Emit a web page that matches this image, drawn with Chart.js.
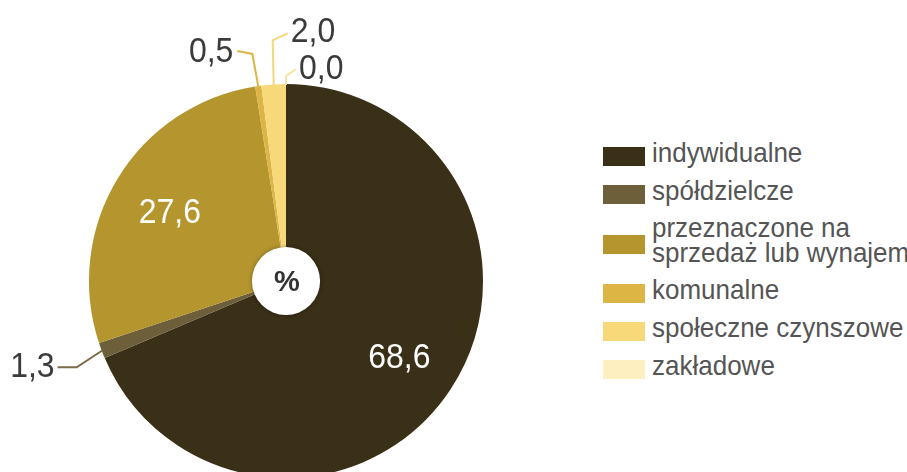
<!DOCTYPE html>
<html><head><meta charset="utf-8">
<script src="https://cdn.jsdelivr.net/npm/chart.js@4/dist/chart.umd.min.js"></script>
<style>
html,body{margin:0;padding:0;width:907px;height:472px;overflow:hidden;background:#fff;font-family:"Liberation Sans",Arial,sans-serif;}
#wrap{position:absolute;left:0;top:0;width:580px;height:500px;}
#legend{position:absolute;left:603px;top:142px;margin:0;padding:0;list-style:none;color:#555;font-size:26px;line-height:23px;white-space:nowrap;}
#legend li{display:flex;align-items:center;margin-bottom:15px;}
#legend .sw{width:42px;height:19px;margin-right:7px;position:relative;top:3px;flex:none;}
#legend .tx{display:inline-block;transform:scaleY(1.08);transform-origin:50% 60%;}
</style></head>
<body>
<div id="wrap"><canvas id="c"></canvas></div>
<ul id="legend"></ul>
<script>
// ---- data ----
const categories = ['indywidualne', 'spółdzielcze', 'przeznaczone na sprzedaż lub wynajem', 'komunalne', 'społeczne czynszowe', 'zakładowe'];
const legendLines = [['indywidualne'], ['spółdzielcze'], ['przeznaczone na', 'sprzedaż lub wynajem'], ['komunalne'], ['społeczne czynszowe'], ['zakładowe']];
const values = [68.6, 1.3, 27.6, 0.5, 2.0, 0.0];
const colors = ['#3a2f17', '#6e5f3b', '#b5952e', '#ddb545', '#f8d97a', '#fdefc0'];
const centerText = '%';

// ---- styling for labels ----
const fmt = v => v.toFixed(1).replace('.', ',');
const insideIdx = [0, 2];
const callouts = {
  1: {elbow: [-26, 17], end: [-45, 17], align: 'right', tdx: -3, tdy: -3, line: '#7b6b48'},
  3: {elbow: [-6, -33], end: [-21, -36], align: 'right', tdx: -4, tdy: -1, line: '#ddb545'},
  4: {elbow: [-1, -45], end: [14, -52], align: 'left', tdx: 3, tdy: -4, line: '#f5d77a'},
  5: {elbow: [0, -9], end: [10, -16], align: 'left', tdx: 3, tdy: -2, line: '#f9e3a0'}
};
const FONT = '"Liberation Sans", Arial, sans-serif';

function scaledText(ctx, txt, x, cyText, fs) {
  // draw text vertically centred at cyText, slightly stretched vertically
  ctx.save();
  ctx.translate(x, cyText);
  ctx.scale(1, 1.08);
  ctx.fillText(txt, 0, fs * 0.358);
  ctx.restore();
}

const labelPlugin = {
  id: 'labels',
  afterDatasetsDraw(chart) {
    const ctx = chart.ctx;
    const meta = chart.getDatasetMeta(0);
    const a0 = meta.data[0];
    const cx = a0.x, cy = a0.y, R = a0.outerRadius, r = a0.innerRadius;
    // centre hole
    ctx.save();
    ctx.beginPath();
    ctx.arc(cx, cy, r + 1, 0, Math.PI * 2);
    ctx.fillStyle = '#fff';
    ctx.shadowColor = 'rgba(0,0,0,0.35)';
    ctx.shadowBlur = 4;
    ctx.fill();
    ctx.restore();
    ctx.save();
    ctx.fillStyle = '#333';
    ctx.font = 'bold 29px ' + FONT;
    ctx.textAlign = 'center';
    ctx.textBaseline = 'alphabetic';
    ctx.fillText(centerText, cx + 1, cy + 10);
    ctx.restore();

    const fs = 32;
    meta.data.forEach((arc, i) => {
      const mid = (arc.startAngle + arc.endAngle) / 2;
      const txt = fmt(values[i]);
      ctx.save();
      ctx.font = fs + 'px ' + FONT;
      ctx.textBaseline = 'alphabetic';
      if (insideIdx.includes(i)) {
        const d = R * 0.69;
        ctx.fillStyle = '#fff';
        ctx.textAlign = 'center';
        scaledText(ctx, txt, cx + Math.cos(mid) * d, cy + Math.sin(mid) * d, fs);
      } else if (callouts[i]) {
        const c = callouts[i];
        const ax = cx + Math.cos(mid) * (R - 1), ay = cy + Math.sin(mid) * (R - 1);
        ctx.strokeStyle = c.line;
        ctx.lineWidth = 2;
        ctx.beginPath();
        ctx.moveTo(ax, ay);
        ctx.lineTo(ax + c.elbow[0], ay + c.elbow[1]);
        ctx.lineTo(ax + c.end[0], ay + c.end[1]);
        ctx.stroke();
        ctx.fillStyle = '#3b3b3b';
        ctx.textAlign = c.align;
        scaledText(ctx, txt, ax + c.end[0] + c.tdx, ay + c.end[1] + c.tdy, fs);
      }
      ctx.restore();
    });
  }
};

new Chart(document.getElementById('c'), {
  type: 'doughnut',
  data: {
    labels: categories,
    datasets: [{data: values, backgroundColor: colors, borderWidth: 0}]
  },
  options: {
    responsive: true,
    maintainAspectRatio: false,
    animation: false,
    cutout: '16.8%',
    layout: {padding: {left: 89, top: 84, right: 97, bottom: 22}},
    plugins: {legend: {display: false}, tooltip: {enabled: false}}
  },
  plugins: [labelPlugin]
});

// HTML legend
const ul = document.getElementById('legend');
categories.forEach((c, i) => {
  const li = document.createElement('li');
  const sw = document.createElement('span');
  sw.className = 'sw';
  sw.style.background = colors[i];
  const t = document.createElement('span');
  t.className = 'tx';
  t.innerHTML = legendLines[i].join('<br>');
  li.appendChild(sw);
  li.appendChild(t);
  ul.appendChild(li);
});
</script>
</body></html>
